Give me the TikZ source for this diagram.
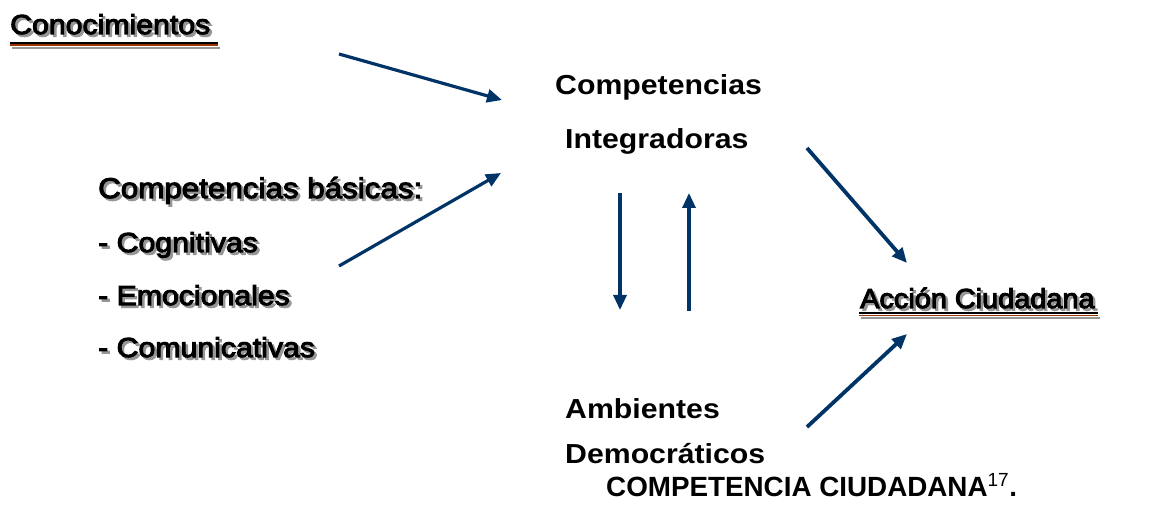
\documentclass[tikz,border=0pt]{standalone}
\usepackage{fontspec}
\setmainfont{Liberation Sans}
\newfontfamily\labfont[FakeStretch=1.1]{Liberation Sans}
\newfontfamily\shfont[FakeStretch=1.1,FakeBold=3.8]{Liberation Sans}
\newfontfamily\shfontn[FakeStretch=1.05,FakeBold=3.8]{Liberation Sans}
\usetikzlibrary{arrows.meta}
\definecolor{navy}{RGB}{0,51,102}
\definecolor{brownline}{RGB}{153,51,0}
\definecolor{shgray}{RGB}{150,150,150}
\tikzset{
  boldtxt/.style={anchor=base west,inner sep=0pt,font=\labfont\bfseries\fontsize{27.5}{33}\selectfont},
  outltxt/.style={anchor=base west,inner sep=0pt,font=\shfont\fontsize{27.5}{33}\selectfont},
  shadowtxt/.style={outltxt,text=shgray},
  conn/.style={navy,line width=3.2pt,-{Triangle[length=15pt,width=13pt]}},
  ulblack/.style={line width=1.6pt,black},
  ulbr/.style={line width=1.4pt,brownline},
  ulshadow/.style={line width=2.2pt,shgray}
}
\newcommand\shadowlabel[5][]{%
  \node[shadowtxt,#1] at (#3+2.5,#4+2.5) {#5};
  \node[outltxt,#1] (#2) at (#3,#4) {#5};}
\begin{document}
\begin{tikzpicture}[x=1pt,y=-1pt]
\useasboundingbox (0,0) rectangle (1162,529);
% shadow labels
\shadowlabel{con}{10}{34}{Conocimientos}
\shadowlabel[font=\shfont\fontsize{28.5}{33}\selectfont]{basic}{98}{198}{Competencias básicas:}
\shadowlabel{cog}{98}{252}{- Cognitivas}
\shadowlabel{emo}{98}{305}{- Emocionales}
\shadowlabel{com}{98}{357}{- Comunicativas}
\shadowlabel[font=\shfontn\fontsize{27.5}{33}\selectfont]{acc}{860}{308}{Acción Ciudadana}
% underlines
\draw[ulshadow] (12,47.8) -- (220,47.8);
\draw[ulblack] (10,42.8) -- (218,42.8);
\draw[ulbr] (10,45.2) -- (218,45.2);
\draw[ulshadow] (861,317.8) -- (1100,317.8);
\draw[ulblack] (859,313.2) -- (1098,313.2);
\draw[ulbr] (859,315.3) -- (1098,315.3);
% bold labels
\node[boldtxt] (ci1) at (555,95) {Competencias};
\node[boldtxt] (ci2) at (565,149) {Integradoras};
\node[boldtxt] (ad1) at (565,418) {Ambientes};
\node[boldtxt] (ad2) at (565,463) {Democráticos};
\node[anchor=base west,inner sep=0pt,font=\bfseries\fontsize{27.8}{33}\selectfont] (title) at (606,496)
  {COMPETENCIA CIUDADANA\textsuperscript{\mdseries\fontsize{19}{20}\selectfont 17}.};
% connectors
\coordinate (a1s) at (339,54);
\coordinate (a1e) at (502,100);
\coordinate (a2s) at (339,266);
\coordinate (a2e) at (501,173);
\coordinate (a3s) at (620,193);
\coordinate (a3e) at (620,310);
\coordinate (a4s) at (689,311);
\coordinate (a4e) at (689,193);
\coordinate (a5s) at (807,148);
\coordinate (a5e) at (907,263);
\coordinate (a6s) at (807,427);
\coordinate (a6e) at (907,334);
\draw[conn] (a1s) -- (a1e);
\draw[conn] (a2s) -- (a2e);
\draw[conn] (a3s) -- (a3e);
\draw[conn] (a4s) -- (a4e);
\draw[conn,line width=3.8pt] (a5s) -- (a5e);
\draw[conn,line width=3.8pt] (a6s) -- (a6e);
\end{tikzpicture}
\end{document}
